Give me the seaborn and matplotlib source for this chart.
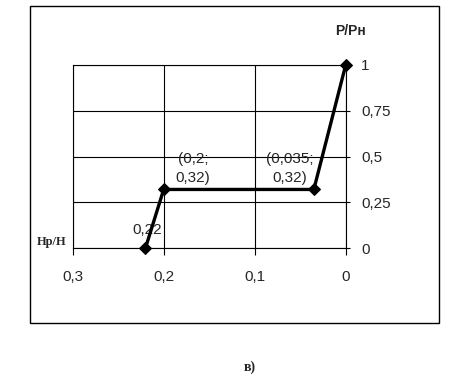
import matplotlib
matplotlib.use("Agg")
import matplotlib.pyplot as plt
import seaborn as sns
import pandas as pd
from matplotlib.patches import Rectangle

# data
hp_h = [0.22, 0.2, 0.035, 0.0]
p_pn = [0.0, 0.32, 0.32, 1.0]
x_ticks = [0.3, 0.2, 0.1, 0.0]
x_labels = ["0,3", "0,2", "0,1", "0"]
y_ticks = [0, 0.25, 0.5, 0.75, 1]
y_labels = ["0", "0,25", "0,5", "0,75", "1"]
annots = ["0,22", "(0,2;\n0,32)", "(0,035;\n0,32)"]

sns.set_style("white")
plt.rcParams['font.family'] = ['Liberation Sans', 'DejaVu Sans']

fig = plt.figure(figsize=(4.6, 3.79), dpi=100)
ax = fig.add_axes([0.158, 0.3456, 0.5935, 0.4829])

df = pd.DataFrame({"x": hp_h, "y": p_pn})
sns.lineplot(data=df, x="x", y="y", ax=ax, sort=False, color="black",
             linewidth=2.4, marker="D", markersize=6, markeredgecolor="black",
             zorder=5, clip_on=False)

ax.set_xlim(0.3, 0.0)
ax.set_ylim(0, 1)
ax.set_xticks(x_ticks)
ax.set_xticklabels(x_labels, fontsize=11)
ax.set_yticks(y_ticks)
ax.set_yticklabels(y_labels, fontsize=11)
ax.yaxis.tick_right()
ax.tick_params(axis="x", direction="out", length=5, width=0.8, color="black", pad=10.5, bottom=True)
ax.tick_params(axis="y", direction="out", length=3.2, width=0.8, color="black", pad=8, right=True, left=False)
ax.grid(True, color="black", linewidth=0.8)
for s in ax.spines.values():
    s.set_visible(True)
    s.set_color("black")
    s.set_linewidth(0.8)
ax.set_xlabel("")
ax.set_ylabel("")

# annotations
ax.text(0.218, 0.098, annots[0], fontsize=11, ha="center", va="center", zorder=4)
ax.text(0.168, 0.432, annots[1], fontsize=11, ha="center", va="center",
        multialignment="center", linespacing=1.45, zorder=4)
ax.text(0.061, 0.432, annots[2], fontsize=11, ha="center", va="center",
        multialignment="center", linespacing=1.45, zorder=4)

# axis titles
fig.text(335/460, 1-31/379, "P/Pн", fontsize=10, fontweight="bold", ha="left", va="center")
fig.text(37/460, 1-242/379, "Hр/H", fontsize=9, fontweight="bold", ha="left", va="center",
         family=["Liberation Serif", "DejaVu Serif"])
fig.text(250/460, 1-367/379, "в)", fontsize=10, fontweight="bold", ha="center", va="center",
         family=["Liberation Serif", "DejaVu Serif"])

# outer frame
fig.patches.append(Rectangle((29.5/460, 1-323/379), (439-29.5)/460, (323-6)/379,
                             transform=fig.transFigure, fill=False, edgecolor="black",
                             linewidth=1.0))

fig.savefig("out.png", dpi=100)
